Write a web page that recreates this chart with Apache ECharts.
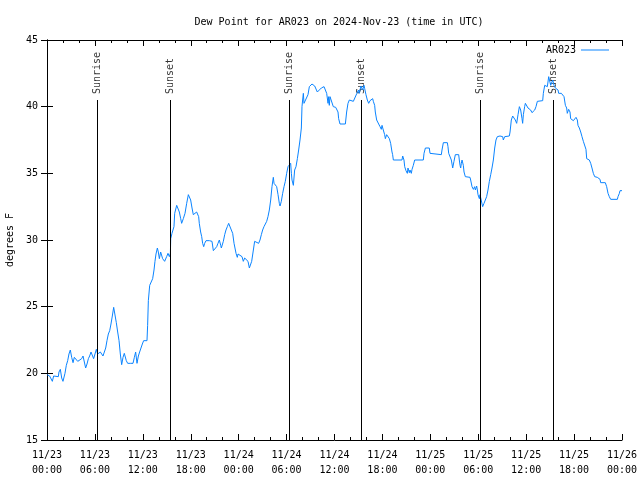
<!DOCTYPE html>
<html>
<head>
<meta charset="utf-8">
<script src="https://cdn.jsdelivr.net/npm/echarts@6/dist/echarts.min.js"></script>
<style>html,body{margin:0;padding:0;background:#fff}#c{width:640px;height:480px}</style>
</head>
<body>
<div id="c"></div>
<script>
// Hours since 2024-11-23 00:00 UTC
const hours = [
0.0,0.33,0.5,0.67,0.83,1.0,1.42,1.5,1.67,1.84,2.0,2.2,2.25,2.42,2.59,2.75,2.92,3.09,3.26,3.42,3.67,3.85,4.05,4.34,4.51,4.67,4.84,5.01,5.18,5.34,5.51,5.68,5.84,6.01,6.18,6.34,6.51,6.68,6.85,7.01,7.18,7.35,7.51,7.68,7.85,8.01,8.18,8.35,8.51,8.68,8.85,9.02,9.18,9.35,9.52,9.68,9.85,9.93,10.1,10.43,10.77,10.94,11.1,11.27,11.44,11.6,11.77,11.94,12.1,12.52,12.6,12.69,12.86,
13.1,13.23,13.4,13.52,13.65,13.82,13.94,14.07,14.23,14.36,14.48,14.73,14.98,15.15,15.32,15.45,15.49,15.65,15.82,15.9,15.99,16.24,16.45,16.57,16.74,16.86,17.07,17.28,17.49,17.7,17.82,17.99,18.16,18.32,18.49,18.74,18.99,19.07,19.24,19.37,19.49,19.62,19.74,19.91,20.33,20.49,20.66,20.83,21.08,21.25,21.41,21.58,21.75,21.83,21.95,22.08,22.25,22.41,22.58,22.75,22.92,23.08,23.25,23.42,23.67,23.83,23.92,24.17,24.42,24.58,24.75,25.0,25.17,25.34,
25.42,25.63,25.84,26.0,26.25,26.5,26.67,26.84,27.0,27.17,27.34,27.51,27.67,27.84,28.01,28.17,28.34,28.43,28.59,28.76,28.93,29.09,29.18,29.34,29.51,29.68,29.84,30.01,30.18,30.35,30.51,30.6,30.68,30.85,31.01,31.18,31.35,31.51,31.68,31.85,31.93,32.01,32.1,32.18,32.43,32.68,32.85,33.02,33.18,33.35,33.52,33.68,33.85,34.1,34.35,34.52,34.69,34.85,35.02,35.19,35.27,35.35,35.44,35.52,35.69,35.85,36.15,36.44,36.52,36.69,37.36,37.52,37.69,37.86,38.11,38.36,38.6,38.8,39.0,39.1,
39.19,39.32,39.53,39.69,39.78,39.94,40.11,40.28,40.45,40.61,40.78,40.86,41.03,41.11,41.28,41.45,41.53,41.7,41.86,41.95,42.11,42.28,42.37,42.53,42.7,42.87,43.03,43.2,43.28,43.37,44.45,44.54,44.7,44.79,44.95,45.12,45.2,45.37,45.45,45.62,45.71,45.87,46.04,47.12,47.21,47.38,47.87,47.96,48.04,49.38,49.46,49.63,50.13,50.21,50.3,50.46,50.63,50.8,50.96,51.13,51.55,51.63,51.72,51.8,51.88,51.97,52.13,52.22,52.38,52.97,53.05,53.22,53.39,53.55,53.64,53.8,53.89,53.97,54.14,
54.22,54.39,54.55,54.72,54.89,55.05,55.22,55.39,55.56,55.72,55.89,56.06,56.22,56.39,56.56,56.72,56.89,57.06,57.14,57.31,57.48,57.89,57.98,58.14,58.31,58.48,58.64,58.81,58.98,59.15,59.31,59.48,59.56,59.65,59.81,59.9,60.06,60.23,60.4,60.56,60.73,60.9,61.07,61.23,61.4,61.57,62.07,62.15,62.32,62.48,62.65,62.82,62.9,62.99,63.07,63.15,63.32,63.49,63.65,63.82,63.99,64.07,64.24,64.41,64.57,64.74,64.91,65.07,65.15,65.32,65.49,65.57,65.74,65.91,66.07,66.24,66.41,66.49,66.66,66.83,66.99,67.16,67.33,67.49,67.58,67.74,67.91,68.08,68.24,68.41,68.58,68.91,69.08,69.25,69.33,69.91,70.08,70.25,70.41,70.58,71.42,71.5,71.67,71.75,72.0
];
const dewPoint = [
19.9,19.8,19.65,19.4,19.8,19.75,19.75,20.1,20.3,19.65,19.4,19.4,20.0,20.6,20.95,21.45,21.75,21.2,20.8,21.2,21.25,20.9,20.9,21.1,21.3,21.2,20.4,20.7,21.1,21.3,21.6,21.7,21.1,21.45,21.8,21.45,21.5,21.6,21.75,21.3,21.6,21.9,22.45,22.95,23.2,23.7,24.3,24.95,25.1,23.8,23.1,22.45,21.45,20.65,21.2,21.5,21.5,20.95,20.75,20.75,20.75,21.2,21.6,20.75,21.3,21.6,21.7,22.2,22.45,22.45,23.6,25.45,26.6,
26.6,27.1,27.75,28.4,28.95,29.4,29.1,28.6,29.1,29.2,28.6,28.4,28.75,29.0,28.75,29.0,30.1,30.5,30.45,31.0,32.0,32.6,32.5,32.1,31.6,31.25,31.6,32.0,32.75,33.4,33.55,33.0,32.4,31.9,32.0,32.1,31.75,31.25,30.6,30.25,29.75,29.5,29.75,29.95,29.95,30.1,29.9,29.2,29.2,29.5,29.75,30.0,29.6,29.4,29.5,29.9,30.4,30.75,31.0,31.25,31.1,30.75,30.5,29.75,29.0,28.7,28.95,29.1,28.75,28.4,28.65,28.7,28.4,27.9,
27.9,28.4,29.25,29.9,30.0,29.75,30.0,30.4,30.75,31.0,31.1,31.4,31.75,32.25,33.0,34.0,34.7,34.25,34.1,34.0,33.4,32.75,32.55,32.9,33.5,34.0,34.4,35.0,35.5,35.6,35.75,35.0,34.5,34.1,35.25,35.5,36.1,36.75,37.5,38.4,40.0,40.5,41.0,40.25,40.25,40.9,41.5,41.6,41.7,41.8,41.55,41.4,41.1,41.1,41.4,41.5,41.5,41.4,41.0,40.25,40.75,40.1,40.75,40.9,40.6,40.0,39.95,39.6,39.1,38.7,38.7,39.6,40.25,40.5,40.55,40.4,40.55,41.0,41.25,41.0,
41.25,41.55,41.25,41.6,41.35,40.9,40.5,40.25,40.45,40.55,40.6,40.4,40.1,39.6,39.0,39.1,38.9,38.5,38.3,38.6,38.25,37.9,37.6,37.9,37.95,37.6,37.25,36.6,36.4,36.0,36.0,36.3,36.0,35.5,35.2,35.0,35.4,35.05,35.25,35.0,35.3,35.6,36.0,36.0,36.5,36.9,36.9,36.5,36.4,36.4,36.75,37.3,37.3,37.0,36.5,36.4,36.0,35.4,35.9,36.4,36.4,36.0,35.6,35.4,35.75,36.0,35.6,35.1,34.75,34.7,34.5,34.0,33.8,34.0,33.75,34.05,33.75,33.4,33.1,
33.4,33.25,32.5,32.75,32.9,33.25,33.75,34.4,34.9,35.4,36.0,36.9,37.5,37.75,37.6,37.8,37.95,37.75,37.5,37.75,37.8,37.8,38.1,39.0,39.3,39.2,39.0,38.75,39.4,40.0,39.75,39.1,38.75,39.4,40.0,40.25,40.2,39.9,39.8,39.75,39.55,39.45,39.75,40.0,40.4,40.45,40.45,41.0,41.6,41.75,41.5,42.25,42.4,42.1,41.6,41.75,42.0,41.6,41.4,41.5,41.25,41.0,41.1,41.0,41.1,40.75,40.1,39.9,39.5,39.8,39.6,39.1,39.25,38.95,39.1,39.2,39.0,38.6,38.4,38.1,37.75,37.4,37.25,36.8,36.1,36.0,36.0,35.75,35.4,35.0,34.75,34.7,34.7,34.55,34.3,34.3,34.0,33.5,33.25,33.05,33.05,33.25,33.5,33.7,33.7
];
const sunHours = [6.3, 15.42, 30.32, 39.38, 54.25, 63.4];
const sunLabels = ['Sunrise', 'Sunset', 'Sunrise', 'Sunset', 'Sunrise', 'Sunset'];
const sunLineTop = 40.5;
const yTicks = [15, 20, 25, 30, 35, 40, 45];

const FONT = 'DejaVu Sans Mono';
const chart = echarts.init(document.getElementById('c'), null, {renderer: 'canvas'});

function xLabel(v) {
  const day = 23 + Math.floor(v / 24);
  const hr = Math.round(v % 24);
  return '11/' + day + '\n' + (hr < 10 ? '0' + hr : hr) + ':00';
}

const axisCommon = {
  type: 'value',
  axisLine: {show: true, lineStyle: {color: '#000', width: 1}},
  splitLine: {show: false}
};

chart.setOption({
  animation: false,
  backgroundColor: '#fff',
  title: {
    text: 'Dew Point for AR023 on 2024-Nov-23 (time in UTC)',
    left: 334, textAlign: 'center', top: 12,
    textStyle: {fontFamily: FONT, fontSize: 10, fontWeight: 'normal', color: '#000'}
  },
  legend: {
    data: ['AR023'],
    right: 26, top: 40,
    align: 'right',
    icon: 'rect',
    itemWidth: 28, itemHeight: 1,
    textStyle: {fontFamily: FONT, fontSize: 10, color: '#000'}
  },
  grid: {left: 47, right: 18, top: 40, bottom: 40, containLabel: false, outerBoundsMode: 'none'},
  xAxis: [
    Object.assign({}, axisCommon, {
      min: 0, max: 72, interval: 6, position: 'bottom',
      axisTick: {show: true, inside: true, length: 6, lineStyle: {color: '#000'}},
      minorTick: {show: true, splitNumber: 3, length: 3, lineStyle: {color: '#000'}},
      axisLabel: {formatter: xLabel, fontFamily: FONT, fontSize: 10, color: '#000', margin: 8, lineHeight: 15}
    }),
    Object.assign({}, axisCommon, {
      min: 0, max: 72, interval: 6, position: 'top',
      axisTick: {show: true, inside: true, length: 6, lineStyle: {color: '#000'}},
      minorTick: {show: true, splitNumber: 3, length: 3, lineStyle: {color: '#000'}},
      axisLabel: {show: false}
    })
  ],
  yAxis: [
    Object.assign({}, axisCommon, {
      min: yTicks[0], max: yTicks[yTicks.length - 1], interval: 5, position: 'left',
      name: 'degrees F', nameLocation: 'middle', nameGap: 32, nameRotate: 90,
      nameTextStyle: {fontFamily: FONT, fontSize: 10, color: '#000'},
      axisTick: {show: true, inside: true, length: 6, lineStyle: {color: '#000'}},
      axisLabel: {fontFamily: FONT, fontSize: 10, color: '#000', margin: 9}
    }),
    Object.assign({}, axisCommon, {
      min: yTicks[0], max: yTicks[yTicks.length - 1], interval: 5, position: 'right',
      axisTick: {show: true, inside: true, length: 6, lineStyle: {color: '#000'}},
      axisLabel: {show: false}
    })
  ],
  series: [
    {
      name: 'AR023',
      type: 'line',
      data: hours.map((h, i) => [h, dewPoint[i]]),
      showSymbol: false,
      symbol: 'none',
      lineStyle: {color: '#0a84ff', width: 1},
      itemStyle: {color: '#0a84ff'},
      z: 3
    },
    {
      name: 'sun',
      type: 'scatter',
      data: sunHours.map((h, i) => ({value: [h, sunLineTop], name: sunLabels[i]})),
      symbolSize: 0,
      itemStyle: {color: 'rgba(0,0,0,0)'},
      label: {
        show: true, position: 'top', distance: 6, rotate: 90,
        align: 'left', verticalAlign: 'middle',
        formatter: p => p.name,
        fontFamily: FONT, fontSize: 10, color: '#000'
      },
      markLine: {
        silent: true, symbol: 'none', animation: false,
        label: {show: false},
        lineStyle: {color: '#000', width: 1, type: 'solid'},
        data: sunHours.map(h => [{coord: [h, yTicks[0]]}, {coord: [h, sunLineTop]}])
      },
      z: 2
    }
  ]
});
</script>
</body>
</html>
